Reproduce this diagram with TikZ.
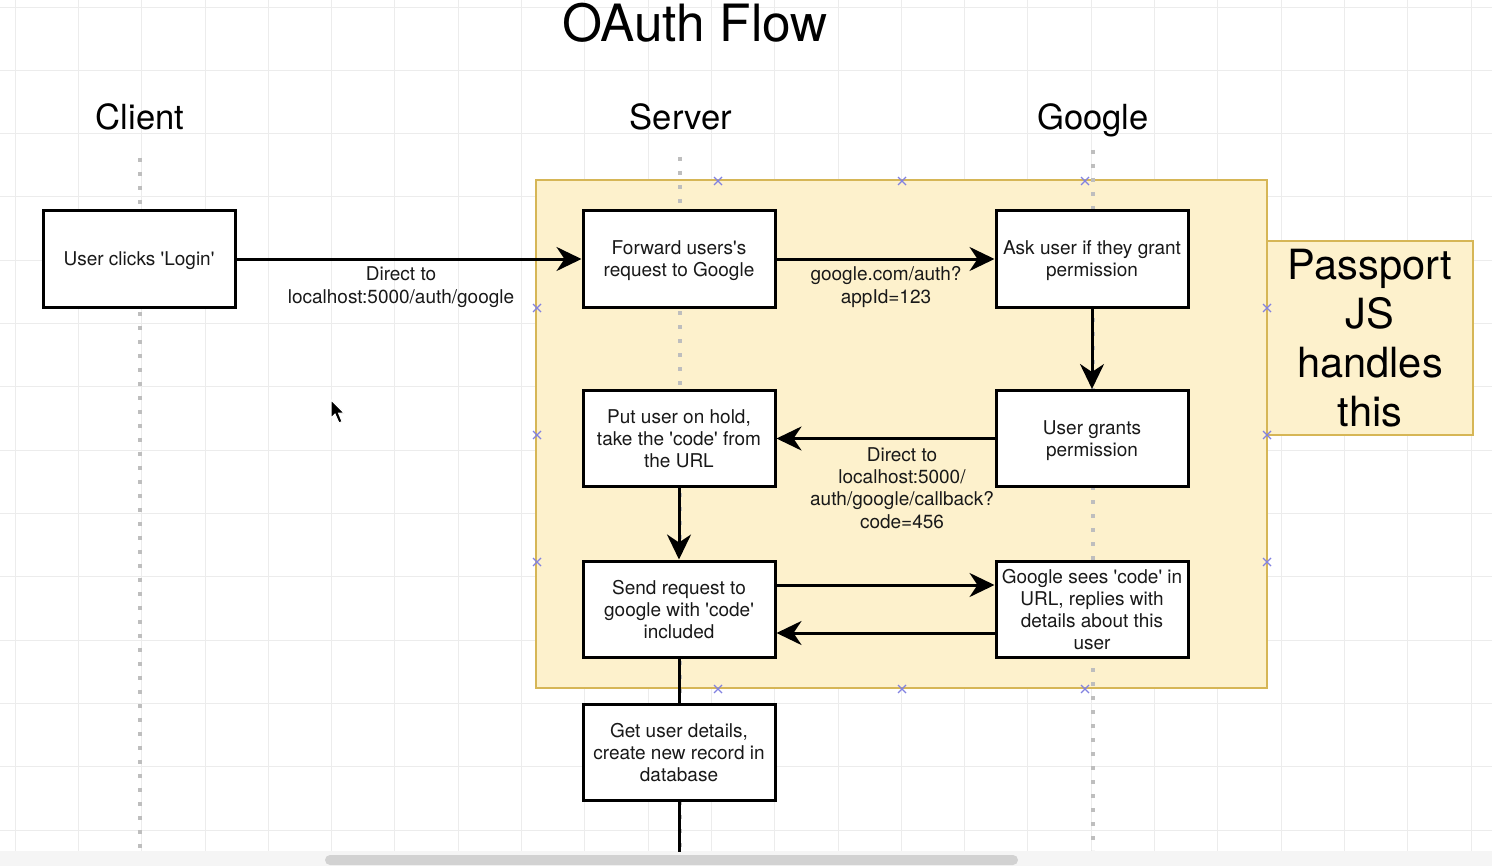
\documentclass[tikz,border=0pt]{standalone}
\usepackage{fontspec}
\setmainfont{TeX Gyre Heros}
\usetikzlibrary{arrows.meta}
\definecolor{yfill}{RGB}{253,241,204}
\definecolor{ydraw}{RGB}{214,182,86}
\definecolor{gridc}{RGB}{236,236,236}
\definecolor{lifec}{RGB}{190,190,190}
\definecolor{markc}{RGB}{130,130,225}
\definecolor{txtc}{RGB}{25,25,25}
\newcommand{\sq}{\textquotesingle}
\newcommand{\tl}{\rule{0pt}{9pt}}
\tikzset{
  stepbox/.style={draw=black, line width=1.5pt, fill=white, minimum width=96pt, minimum height=48pt,
    align=center, inner sep=1pt, text=txtc, font=\fontsize{9.5}{11}\selectfont,
    execute at end node={\rule[-2pt]{0pt}{2pt}}},
  flow/.style={line width=1.5pt, -{Stealth[length=12.5pt,width=12pt,inset=4pt]}},
  plain/.style={line width=1.5pt},
  lbl/.style={align=center, inner sep=0pt, text=txtc, font=\fontsize{9.5}{11.2}\selectfont},
  lane/.style={font=\fontsize{17.3}{20}\selectfont, anchor=base, inner sep=0pt},
  life/.style={draw=lifec, line width=1.6pt, dash pattern=on 2pt off 5pt},
  ctr/.style={draw=markc, line width=0.6pt},
}
\begin{document}
\begin{tikzpicture}[x=0.5pt,y=-0.5pt]
\useasboundingbox (0,0) rectangle (1492,866);
\fill[white] (0,0) rectangle (1492,866);
% grid
\foreach \i in {0,...,23} {\draw[gridc, line width=0.4pt] (15+63.3*\i,0) -- (15+63.3*\i,851);}
\foreach \j in {0,...,13} {\draw[gridc, line width=0.4pt] (0,7+63.3*\j) -- (1492,7+63.3*\j);}
% scrollbar
\fill[gray!8] (0,851) rectangle (1492,866);
\fill[gray!35, rounded corners=2.5pt] (325,855) rectangle (1018,865);

% title and lanes
\node[font=\fontsize{25.7}{30}\selectfont, anchor=base, inner sep=0pt] (title) at (695,42) {OAuth Flow};
\node[lane] (client) at (140,130) {Client};
\node[lane] (server) at (681,130) {Server};
\node[lane] (google) at (1093,130) {Google};

% container
\node[draw=ydraw, fill=yfill, line width=1pt, minimum width=365.5pt, minimum height=254pt, inner sep=0pt] (passbox) at (901.5,434) {};
\node[draw=ydraw, fill=yfill, line width=1pt, minimum width=103pt, minimum height=97pt, inner sep=0pt,
      align=center, font=\fontsize{20.8}{24.5}\selectfont] (passport) at (1370,338) {Passport\\JS\\handles\\this};

% lifelines
\coordinate (cTop) at (140,158); \coordinate (cBot) at (140,850);
\coordinate (sTop) at (680,157); \coordinate (sBot) at (680,850);
\coordinate (gTop) at (1093,150); \coordinate (gBot) at (1093,850);
\draw[life] (cTop) -- (cBot);
\draw[life] (sTop) -- (sBot);
\draw[life] (gTop) -- (gBot);

% connection markers
\foreach \mx/\my in {718/181, 902/181, 1085/181, 537/308, 537/435, 537/562, 1267/308, 1267/435, 1267/562, 718/689, 902/689, 1085/689} {
  \draw[ctr] (\mx-4,\my-4) -- (\mx+4,\my+4) (\mx-4,\my+4) -- (\mx+4,\my-4);
}

% boxes
\node[stepbox] (login) at (139,259) {\tl User clicks \sq Login\sq};
\node[stepbox] (forward) at (679,259) {\tl Forward users\sq s\\request to Google};
\node[stepbox] (ask) at (1092,259) {\tl Ask user if they grant\\permission};
\node[stepbox] (grants) at (1092,438.5) {\tl User grants\\permission};
\node[stepbox] (hold) at (679,438.5) {\tl Put user on hold,\\take the \sq code\sq{} from\\the URL};
\node[stepbox] (send) at (679,609) {\tl Send request to\\google with \sq code\sq\\included};
\node[stepbox] (gsees) at (1092,609) {\tl Google sees \sq code\sq{} in\\URL, replies with\\details about this\\user};
\node[stepbox] (getuser) at (679,752) {\tl Get user details,\\create new record in\\database};
\coordinate (tail) at (679,852);

% connectors
\draw[flow] (login) -- (forward);
\draw[flow] (forward) -- (ask);
\draw[flow] (ask) -- (grants);
\draw[flow] (grants) -- (hold);
\draw[flow] (hold) -- (send);
\draw[flow] ([yshift=12pt]send.east) -- ([yshift=12pt]gsees.west);
\draw[flow] ([yshift=-12pt]gsees.west) -- ([yshift=-12pt]send.east);
\draw[plain] (send) -- (getuser);
\draw[plain] (getuser) -- (tail);

% labels
\node[lbl] (l1) at (401,287) {Direct to\\localhost:5000/auth/google};
\node[lbl] (l2) at (886,287) {google.com/auth?\\appId=123};
\node[lbl] (l3) at (902,488) {Direct to\\localhost:5000/\\auth/google/callback?\\code=456};

% cursor
\filldraw[fill=black, draw=white, line width=0.5pt] (331,400) -- (331,418) -- (335,414) -- (339,423) -- (342,421.5) -- (338.5,413) -- (344,413) -- cycle;
\end{tikzpicture}
\end{document}
